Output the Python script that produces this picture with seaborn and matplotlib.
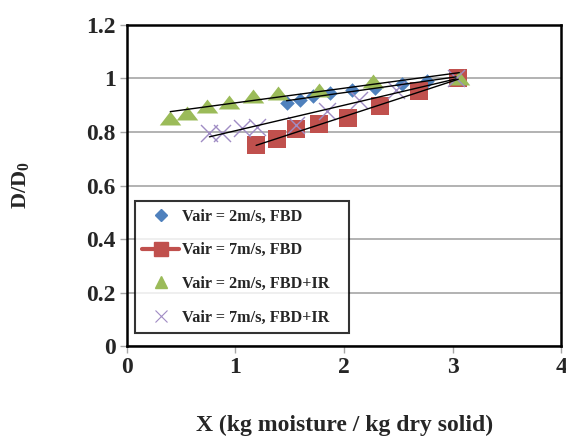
import numpy as np
import pandas as pd
import matplotlib
matplotlib.use("Agg")
import matplotlib.pyplot as plt
from matplotlib.lines import Line2D
import seaborn as sns

# Vair = 2m/s, FBD
x_2_fbd = [1.47, 1.59, 1.71, 1.87, 2.07, 2.28, 2.53, 2.76, 3.03]
y_2_fbd = [0.908, 0.920, 0.933, 0.945, 0.958, 0.964, 0.980, 0.989, 1.0]

# Vair = 7m/s, FBD
x_7_fbd = [1.19, 1.38, 1.56, 1.77, 2.04, 2.33, 2.69, 3.05]
y_7_fbd = [0.750, 0.772, 0.810, 0.828, 0.853, 0.896, 0.952, 1.0]

# Vair = 2m/s, FBD+IR
x_2_ir = [0.40, 0.55, 0.74, 0.94, 1.16, 1.39, 1.77, 2.27, 3.06]
y_2_ir = [0.854, 0.871, 0.896, 0.911, 0.936, 0.946, 0.955, 0.989, 1.0]

# Vair = 7m/s, FBD+IR
x_7_ir = [0.76, 0.88, 1.06, 1.20, 1.56, 1.84, 2.14, 2.48, 3.03]
y_7_ir = [0.797, 0.797, 0.815, 0.820, 0.825, 0.877, 0.920, 0.958, 1.0]

labels = ["Vair = 2m/s, FBD", "Vair = 7m/s, FBD",
          "Vair = 2m/s, FBD+IR", "Vair = 7m/s, FBD+IR"]
colors = ["#4F81BD", "#C0504D", "#9BBB59", "#A08CC4"]

sns.set_style("white")
plt.rcParams["font.family"] = ["Liberation Serif", "DejaVu Serif"]
plt.rcParams["font.weight"] = "bold"
plt.rcParams["mathtext.default"] = "regular"

tri = [(-1, -0.65), (1, -0.65), (0, 0.65)]

fig = plt.figure(figsize=(5.66, 4.36), dpi=100)
ax = fig.add_axes([0.224, 0.206, 0.768, 0.737])

series = [(x_2_fbd, y_2_fbd), (x_7_fbd, y_7_fbd), (x_2_ir, y_2_ir), (x_7_ir, y_7_ir)]
marker_kw = [
    dict(marker="D", s=55, color=colors[0], linewidth=0),
    dict(marker="s", s=180, color=colors[1], linewidth=0),
    dict(marker=tri, s=240, color=colors[2], linewidth=0),
    dict(marker="x", s=150, color=colors[3], linewidth=1.0),
]

for (xs, ys), kw in zip(series, marker_kw):
    sns.scatterplot(x=xs, y=ys, ax=ax, zorder=3, **kw)

for xs, ys in series:
    sns.regplot(x=np.array(xs), y=np.array(ys), ax=ax, scatter=False, ci=None,
                color="black", line_kws=dict(linewidth=1.0, zorder=4))

ax.set_xlim(0, 4)
ax.set_ylim(0, 1.2)
ax.set_xticks([0, 1, 2, 3, 4])
ax.set_xticklabels(["0", "1", "2", "3", "4"])
ax.set_yticks([0, 0.2, 0.4, 0.6, 0.8, 1.0, 1.2])
ax.set_yticklabels(["0", "0.2", "0.4", "0.6", "0.8", "1", "1.2"])
ax.yaxis.grid(True, color="#A6A6A6", linewidth=1.2)
ax.xaxis.grid(False)
ax.tick_params(axis="both", which="major", direction="out", length=5, width=1,
               color="#A6A6A6", labelsize=17, pad=3, bottom=True, left=True)
for sp in ax.spines.values():
    sp.set_color("black")
    sp.set_linewidth(1.8)

ax.set_xlabel("X (kg moisture / kg dry solid)", fontsize=17, fontweight="bold", labelpad=26)
ax.set_ylabel("D/D$_0$", fontsize=16, fontweight="bold", labelpad=40)

handles = [
    Line2D([], [], marker="D", color=colors[0], linestyle="none", markersize=6),
    Line2D([], [], marker="s", color=colors[1], linestyle="-", linewidth=3, markersize=10),
    Line2D([], [], marker="^", color=colors[2], linestyle="none", markersize=8),
    Line2D([], [], marker="x", color=colors[3], linestyle="none", markersize=9, markeredgewidth=0.8),
]
leg = ax.legend(handles, labels, loc="lower left", bbox_to_anchor=(0.018, 0.04, 0.494, 0.4),
                mode="expand", borderaxespad=0, frameon=True, fancybox=False,
                labelspacing=1.1, handlelength=2.3, handletextpad=0.15,
                borderpad=0.45, prop=dict(weight="bold", size=11.7))
leg.get_frame().set_edgecolor("black")
leg.get_frame().set_linewidth(1.5)
leg.set_zorder(5)

fig.savefig("out.png", dpi=100)
